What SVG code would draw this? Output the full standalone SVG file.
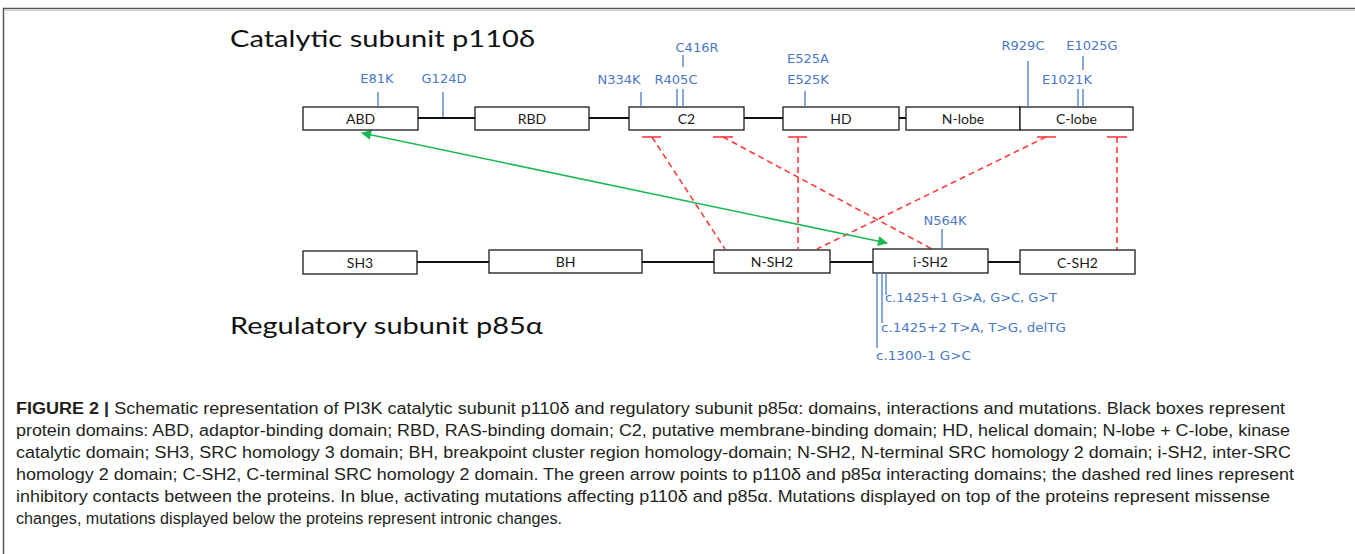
<svg xmlns="http://www.w3.org/2000/svg" width="1355" height="554" viewBox="0 0 1355 554">
<defs>
<style>
.box{fill:#fff;stroke:#1a1a1a;stroke-width:1.3}
.lbl{font-family:Lato,"Open Sans",sans-serif;font-size:14px;fill:#1a1a1a;text-anchor:middle}
.title{font-family:Lato,"Open Sans",sans-serif;font-size:24px;fill:#111}
.link{stroke:#111;stroke-width:2;fill:none}
.mut{font-family:"DejaVu Sans",Verdana,sans-serif;font-size:13px;fill:#4a78c8}
.mc{text-anchor:middle}
.tick{stroke:#4a78c8;stroke-width:1.3;fill:none}
.inh{stroke:#ff3b3b;stroke-width:1.6;stroke-dasharray:6,4;fill:none}
.bar{stroke:#ff3b3b;stroke-width:1.6;fill:none}
.green{stroke:#1db954;stroke-width:1.6;fill:none}
.cap{font-family:"Liberation Sans",Arial,sans-serif;font-size:16px;fill:#231f20}
</style>
<marker id="ga" viewBox="0 0 10 10" refX="9" refY="5" markerWidth="12" markerHeight="10" markerUnits="userSpaceOnUse" orient="auto-start-reverse">
<path d="M0,0 L10,5 L0,10 z" fill="#1db954"/>
</marker>
</defs>
<rect width="1355" height="554" fill="#fff"/>
<rect x="3.5" y="8.5" width="1400" height="600" fill="none" stroke="#555" stroke-width="1.5"/>
<line x1="4" y1="10.5" x2="1355" y2="10.5" stroke="#ccc" stroke-width="1"/>

<text class="title" x="230" y="47" textLength="305" lengthAdjust="spacingAndGlyphs">Catalytic subunit p110δ</text>
<text class="title" x="230" y="334" textLength="313" lengthAdjust="spacingAndGlyphs">Regulatory subunit p85α</text>

<g id="connectors">
<g id="backbone-top">
<line class="link" x1="418" y1="118" x2="475" y2="118"/>
<line class="link" x1="589" y1="118" x2="629" y2="118"/>
<line class="link" x1="744" y1="118" x2="783" y2="118"/>
<line class="link" x1="899" y1="118" x2="906" y2="118"/>
</g>
<g id="backbone-bottom">
<line class="link" x1="417" y1="262" x2="489" y2="262"/>
<line class="link" x1="642" y1="262" x2="714" y2="262"/>
<line class="link" x1="830" y1="262" x2="873" y2="262"/>
<line class="link" x1="988" y1="262" x2="1020" y2="262"/>
</g>
<g id="inhibitions">
<line class="bar" x1="642" y1="137" x2="661" y2="137"/>
<line class="inh" x1="652" y1="137" x2="725" y2="249"/>
<line class="bar" x1="713" y1="137" x2="733" y2="137"/>
<line class="inh" x1="723" y1="137" x2="932" y2="249"/>
<line class="bar" x1="788" y1="137" x2="807" y2="137"/>
<line class="inh" x1="798" y1="137" x2="798" y2="249"/>
<line class="bar" x1="1037" y1="137" x2="1056" y2="137"/>
<line class="inh" x1="1046" y1="137" x2="817" y2="249"/>
<line class="bar" x1="1107" y1="137" x2="1127" y2="137"/>
<line class="inh" x1="1117" y1="137" x2="1117" y2="250"/>
</g>
<line id="interaction" class="green" x1="362" y1="133" x2="887" y2="243" marker-start="url(#ga)" marker-end="url(#ga)"/>
</g>

<g id="top-domains">
<g id="ABD"><rect class="box" x="303" y="107" width="115" height="23"/><text class="lbl" x="360.5" y="123.5">ABD</text></g>
<g id="RBD"><rect class="box" x="475" y="107" width="114" height="23"/><text class="lbl" x="532" y="123.5">RBD</text></g>
<g id="C2"><rect class="box" x="629" y="107" width="115" height="23"/><text class="lbl" x="686.5" y="123.5">C2</text></g>
<g id="HD"><rect class="box" x="783" y="107" width="116" height="23"/><text class="lbl" x="841" y="123.5">HD</text></g>
<g id="N-lobe"><rect class="box" x="906" y="107" width="114" height="23"/><text class="lbl" x="963" y="123.5">N-lobe</text></g>
<g id="C-lobe"><rect class="box" x="1020" y="107" width="113" height="23"/><text class="lbl" x="1076.5" y="123.5">C-lobe</text></g>
</g>

<g id="bottom-domains">
<g id="SH3"><rect class="box" x="303" y="251" width="114" height="23"/><text class="lbl" x="360" y="267.5">SH3</text></g>
<g id="BH"><rect class="box" x="489" y="250" width="153" height="23"/><text class="lbl" x="565.5" y="266.5">BH</text></g>
<g id="N-SH2"><rect class="box" x="714" y="250" width="116" height="23"/><text class="lbl" x="772" y="266.5">N-SH2</text></g>
<g id="i-SH2"><rect class="box" x="873" y="249" width="115" height="24"/><text class="lbl" x="930.5" y="266.5">i-SH2</text></g>
<g id="C-SH2"><rect class="box" x="1020" y="250" width="115" height="24"/><text class="lbl" x="1077.5" y="267.5">C-SH2</text></g>
</g>

<g id="mutations">
<text class="mut mc" x="377" y="83">E81K</text>
<line class="tick" x1="378" y1="92" x2="378" y2="107"/>
<text class="mut mc" x="444" y="83">G124D</text>
<line class="tick" x1="443" y1="92" x2="443" y2="117"/>
<text class="mut mc" x="619" y="84">N334K</text>
<line class="tick" x1="641" y1="92" x2="641" y2="107"/>
<text class="mut mc" x="676" y="84">R405C</text>
<line class="tick" x1="677" y1="89" x2="677" y2="107"/>
<line class="tick" x1="683" y1="89" x2="683" y2="107"/>
<text class="mut mc" x="697" y="52">C416R</text>
<line class="tick" x1="683" y1="55" x2="683" y2="67"/>
<text class="mut mc" x="808" y="63">E525A</text>
<text class="mut mc" x="808" y="84">E525K</text>
<line class="tick" x1="805" y1="91" x2="805" y2="107"/>
<text class="mut mc" x="1023" y="50">R929C</text>
<line class="tick" x1="1028" y1="61" x2="1028" y2="107"/>
<text class="mut mc" x="1092" y="50">E1025G</text>
<line class="tick" x1="1083" y1="56" x2="1083" y2="70"/>
<text class="mut mc" x="1067" y="84">E1021K</text>
<line class="tick" x1="1078" y1="89" x2="1078" y2="107"/>
<line class="tick" x1="1083" y1="89" x2="1083" y2="107"/>
<text class="mut mc" x="945" y="225">N564K</text>
<line class="tick" x1="942" y1="229" x2="942" y2="249"/>
<line class="tick" x1="877" y1="273" x2="877" y2="348"/>
<line class="tick" x1="882" y1="273" x2="882" y2="323"/>
<line class="tick" x1="886" y1="273" x2="886" y2="295"/>
<text class="mut" x="885" y="302" textLength="172" lengthAdjust="spacingAndGlyphs">c.1425+1 G&gt;A, G&gt;C, G&gt;T</text>
<text class="mut" x="881" y="332" textLength="185" lengthAdjust="spacingAndGlyphs">c.1425+2 T&gt;A, T&gt;G, delTG</text>
<text class="mut" x="876" y="360" textLength="95" lengthAdjust="spacingAndGlyphs">c.1300-1 G&gt;C</text>
</g>

<g id="caption">
<text class="cap" x="16" y="414" textLength="1269" lengthAdjust="spacingAndGlyphs"><tspan font-weight="bold">FIGURE 2 |</tspan> Schematic representation of PI3K catalytic subunit p110δ and regulatory subunit p85α: domains, interactions and mutations. Black boxes represent</text>
<text class="cap" x="16" y="436" textLength="1274" lengthAdjust="spacingAndGlyphs">protein domains: ABD, adaptor-binding domain; RBD, RAS-binding domain; C2, putative membrane-binding domain; HD, helical domain; N-lobe + C-lobe, kinase</text>
<text class="cap" x="16" y="458" textLength="1275" lengthAdjust="spacingAndGlyphs">catalytic domain; SH3, SRC homology 3 domain; BH, breakpoint cluster region homology-domain; N-SH2, N-terminal SRC homology 2 domain; i-SH2, inter-SRC</text>
<text class="cap" x="16" y="480" textLength="1278" lengthAdjust="spacingAndGlyphs">homology 2 domain; C-SH2, C-terminal SRC homology 2 domain. The green arrow points to p110δ and p85α interacting domains; the dashed red lines represent</text>
<text class="cap" x="16" y="502" textLength="1254" lengthAdjust="spacingAndGlyphs">inhibitory contacts between the proteins. In blue, activating mutations affecting p110δ and p85α. Mutations displayed on top of the proteins represent missense</text>
<text class="cap" x="16" y="524" textLength="546" lengthAdjust="spacingAndGlyphs">changes, mutations displayed below the proteins represent intronic changes.</text>
</g>
</svg>
